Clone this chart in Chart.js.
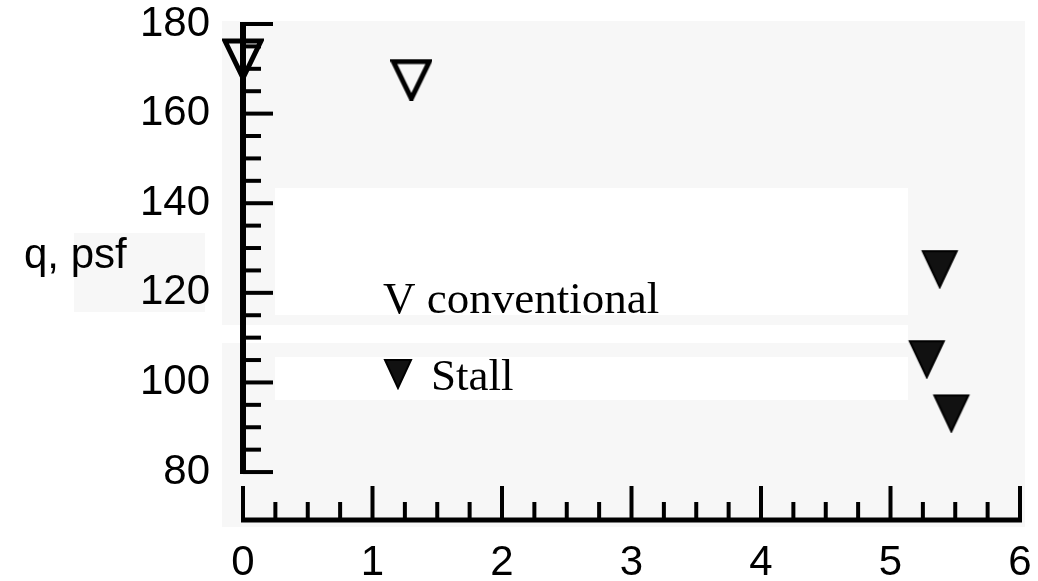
<!DOCTYPE html>
<html>
<head>
<meta charset="utf-8">
<title>q, psf</title>
<script src="https://cdn.jsdelivr.net/npm/chart.js@4.4.1/dist/chart.umd.min.js"></script>
<style>
  html, body { margin: 0; padding: 0; background: #fff; }
  #wrap { width: 1038px; height: 581px; }
</style>
</head>
<body>
<div id="wrap"><canvas id="chart" width="1038" height="581"></canvas></div>
<script>
// ---------------- data ----------------
const conventionalX = [0.0, 1.30];
const conventionalY = [172.2, 167.6];
const stallX = [5.38, 5.28, 5.47];
const stallY = [125.4, 105.3, 93.2];

const xLabels = [0, 1, 2, 3, 4, 5, 6];
const yLabels = [80, 100, 120, 140, 160, 180];
const xMinorStep = 0.25;
const yMinorStep = 5;

const yTitle = 'q, psf';
const legendConv = 'V conventional';
const legendStall = 'Stall';

// ---------------- markers (down triangles) ----------------
function makeTriangle(w, h, filled) {
    const c = document.createElement('canvas');
    c.width = w; c.height = h;
    const g = c.getContext('2d');
    g.beginPath();
    g.moveTo(3, 3);
    g.lineTo(w - 3, 3);
    g.lineTo(w / 2, h - 2);
    g.closePath();
    g.lineJoin = 'miter';
    g.strokeStyle = '#000';
    if (filled) {
        g.fillStyle = '#111';
        g.fill();
        g.lineWidth = 2;
        g.stroke();
    } else {
        g.lineWidth = 5;
        g.stroke();
    }
    return c;
}
const openTri = makeTriangle(42, 42, false);
const fillTri = makeTriangle(40, 41, true);
const legendTri = makeTriangle(32, 33, true);

// ticks list built from labels + minor step
function stepTicks(lo, hi, step) {
    const out = [];
    for (let v = lo; v <= hi + 1e-9; v += step) out.push(Math.round(v * 100) / 100);
    return out;
}
const xTicks = stepTicks(xLabels[0], xLabels[xLabels.length - 1], xMinorStep);
const yTicks = stepTicks(yLabels[0], yLabels[yLabels.length - 1], yMinorStep);

// ---------------- scanned-page backdrop ----------------
const backdrop = {
    id: 'backdrop',
    beforeDraw(chart) {
        const c = chart.ctx;
        c.save();
        c.fillStyle = '#f7f7f7';
        c.fillRect(222, 21, 803, 506);
        c.fillRect(74, 233, 131, 79);
        c.fillStyle = '#ffffff';
        c.fillRect(275, 188, 633, 127);
        c.fillRect(222, 325, 686, 18);
        c.fillRect(275, 357, 633, 43);
        c.restore();
    }
};

// ---------------- inward axes + legend ----------------
const inwardAxes = {
    id: 'inwardAxes',
    afterDatasetsDraw(chart) {
        const c = chart.ctx;
        const xs = chart.scales.x, ys = chart.scales.y;
        const x0 = xs.getPixelForValue(xLabels[0]);
        const x1 = xs.getPixelForValue(xLabels[xLabels.length - 1]);
        const yb = chart.chartArea.bottom;
        const yTop = ys.getPixelForValue(yLabels[yLabels.length - 1]);
        const yBot = ys.getPixelForValue(yLabels[0]);
        c.save();
        c.strokeStyle = '#000';
        c.lineCap = 'butt';
        // y axis line
        c.lineWidth = 6;
        c.beginPath();
        c.moveTo(x0, yTop - 2);
        c.lineTo(x0, yBot + 2);
        c.stroke();
        // y ticks
        c.lineWidth = 4;
        yTicks.forEach(v => {
            const p = ys.getPixelForValue(v);
            const len = yLabels.includes(v) ? 30 : 18;
            c.beginPath();
            c.moveTo(x0, p);
            c.lineTo(x0 + len, p);
            c.stroke();
        });
        // x axis line
        c.lineWidth = 5;
        c.beginPath();
        c.moveTo(x0 - 2, yb);
        c.lineTo(x1 + 2, yb);
        c.stroke();
        // x ticks
        c.lineWidth = 4;
        xTicks.forEach(v => {
            const p = xs.getPixelForValue(v);
            const len = xLabels.includes(v) ? 34 : 18;
            c.beginPath();
            c.moveTo(p, yb);
            c.lineTo(p, yb - len);
            c.stroke();
        });

        // y title
        c.fillStyle = '#000';
        c.font = '42px "Liberation Sans", Arial, sans-serif';
        c.textAlign = 'left';
        c.textBaseline = 'alphabetic';
        c.fillText(yTitle, 24, 268);

        // legend
        c.font = '45px "Liberation Serif", "Times New Roman", serif';
        c.fillText(legendConv, 383, 313);
        c.drawImage(legendTri, 382, 357);
        c.fillText(legendStall, 431, 390);
        c.restore();
    }
};

const ctx = document.getElementById('chart').getContext('2d');
const chart = new Chart(ctx, {
    type: 'scatter',
    data: {
        datasets: [{
            label: legendConv,
            data: conventionalX.map((x, i) => ({ x: x, y: conventionalY[i] })),
            pointStyle: openTri,
            clip: false
        }, {
            label: legendStall,
            data: stallX.map((x, i) => ({ x: x, y: stallY[i] })),
            pointStyle: fillTri,
            clip: false
        }]
    },
    options: {
        responsive: false,
        animation: false,
        layout: { padding: { top: 24, right: 18, left: 0, bottom: 0 } },
        plugins: {
            legend: { display: false },
            tooltip: { enabled: false }
        },
        scales: {
            x: {
                type: 'linear',
                min: 0,
                max: 6,
                border: { display: false },
                grid: { display: false, drawTicks: false },
                afterBuildTicks: s => { s.ticks = xLabels.map(v => ({ value: v })); },
                afterFit: s => { s.height = 61; s.paddingLeft = 0; s.paddingRight = 0; },
                ticks: {
                    padding: 18,
                    color: '#000',
                    maxRotation: 0,
                    font: { family: '"Liberation Sans", Arial, sans-serif', size: 42 }
                }
            },
            y: {
                type: 'linear',
                min: 69.3,
                max: 180,
                border: { display: false },
                grid: { display: false, drawTicks: false },
                afterBuildTicks: s => { s.ticks = yLabels.map(v => ({ value: v })); },
                afterFit: s => { s.width = 243; s.paddingTop = 0; s.paddingBottom = 0; },
                ticks: {
                    padding: 33,
                    color: '#000',
                    font: { family: '"Liberation Sans", Arial, sans-serif', size: 42 }
                }
            }
        }
    },
    plugins: [backdrop, inwardAxes]
});
</script>
</body>
</html>
